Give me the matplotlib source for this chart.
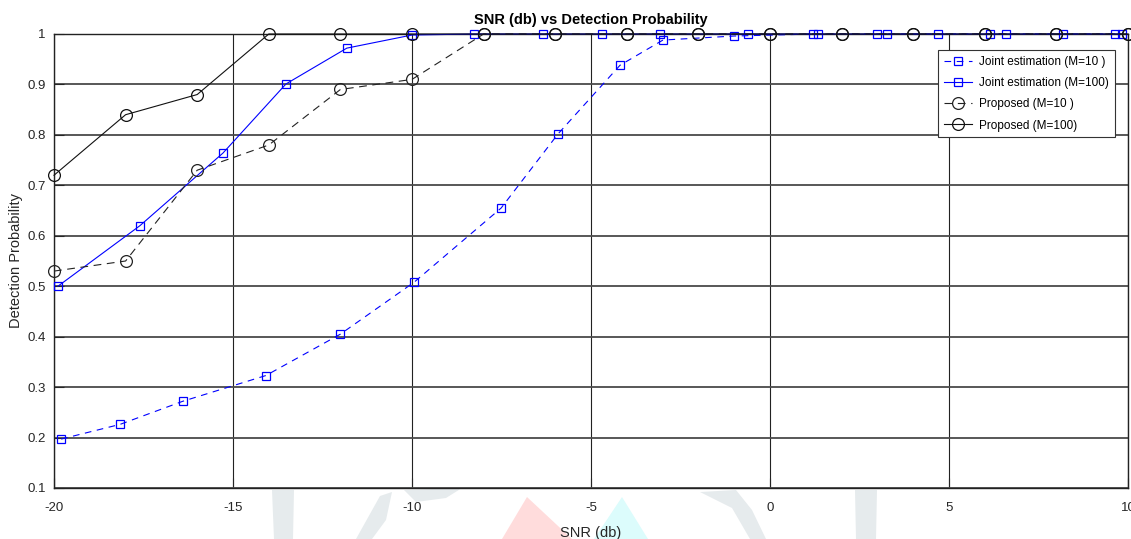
import matplotlib
matplotlib.use("Agg")
import matplotlib.pyplot as plt
from matplotlib.patches import Polygon

plt.rcParams['font.family'] = ['Liberation Sans', 'DejaVu Sans']

# SNR grid for the proposed detector
snr_proposed = [-20, -18, -16, -14, -12, -10, -8, -6, -4, -2, 0, 2, 4, 6, 8, 10]
pd_proposed_m10 = [0.53, 0.55, 0.73, 0.78, 0.89, 0.91, 1.0, 1.0, 1.0, 1.0, 1.0, 1.0, 1.0, 1.0, 1.0, 1.0]
pd_proposed_m100 = [0.72, 0.84, 0.88, 1.0, 1.0, 1.0, 1.0, 1.0, 1.0, 1.0, 1.0, 1.0, 1.0, 1.0, 1.0, 1.0]

# Joint estimation detector
snr_joint_m10 = [-19.8, -18.16, -16.4, -14.08, -12.0, -9.94, -7.51, -5.92, -4.19, -2.99, -1.0,
                 1.2, 2.99, 4.69, 6.59, 9.64]
pd_joint_m10 = [0.197, 0.226, 0.272, 0.323, 0.405, 0.508, 0.655, 0.802, 0.938, 0.988, 0.996,
                1.0, 1.0, 1.0, 1.0, 1.0]
snr_joint_m100 = [-19.89, -17.6, -15.28, -13.52, -11.82, -10.0, -8.27, -6.34, -4.69, -3.07, -0.61,
                  1.34, 3.27, 6.15, 8.18, 9.83]
pd_joint_m100 = [0.5, 0.62, 0.764, 0.901, 0.972, 0.998, 1.0, 1.0, 1.0, 1.0, 1.0,
                 1.0, 1.0, 1.0, 1.0, 1.0]

x_ticks = [-20, -15, -10, -5, 0, 5, 10]
y_ticks = [0.1, 0.2, 0.3, 0.4, 0.5, 0.6, 0.7, 0.8, 0.9, 1.0]
y_tick_labels = ['0.1', '0.2', '0.3', '0.4', '0.5', '0.6', '0.7', '0.8', '0.9', '1']

fig = plt.figure(figsize=(11.31, 5.39), dpi=100)

# faint logo stamped behind the plot
W, H = 1131.0, 539.0
def fig_poly(pts, color):
    p = Polygon([(x / W, 1 - y / H) for x, y in pts], closed=True,
                transform=fig.transFigure, facecolor=color, edgecolor='none', zorder=-5)
    fig.patches.append(p)

fig_poly([(527, 497), (502, 539), (572, 539)], '#ffdcdc')
fig_poly([(622, 497), (594, 539), (648, 539)], '#dcfcfc')
grey = '#e6ebed'
fig_poly([(272, 490), (294, 490), (293, 539), (274, 539)], grey)
fig_poly([(380, 496), (392, 492), (386, 520), (372, 539), (356, 539)], grey)
fig_poly([(404, 490), (462, 488), (446, 498), (416, 502)], grey)
fig_poly([(700, 492), (736, 490), (752, 510), (766, 539), (750, 539), (732, 508)], grey)
fig_poly([(855, 490), (877, 490), (876, 539), (856, 539)], grey)

ax = fig.add_axes([54 / W, 1 - 488 / H, (1128 - 54) / W, (488 - 34) / H])

ax.plot(snr_joint_m10, pd_joint_m10, color='#0000ff', linestyle=(0, (6, 5)), linewidth=0.8,
        marker='s', markersize=6, markerfacecolor='none', markeredgewidth=0.9,
        label='Joint estimation (M=10 )', clip_on=False, zorder=3)
ax.plot(snr_joint_m100, pd_joint_m100, color='#0000ff', linestyle='-', linewidth=0.8,
        marker='s', markersize=6, markerfacecolor='none', markeredgewidth=0.9,
        label='Joint estimation (M=100)', clip_on=False, zorder=3)
ax.plot(snr_proposed, pd_proposed_m10, color='#222222', linestyle=(0, (7, 5)), linewidth=0.8,
        marker='o', markersize=8.5, markerfacecolor='none', markeredgewidth=0.9,
        label='Proposed (M=10 )', clip_on=False, zorder=3)
ax.plot(snr_proposed, pd_proposed_m100, color='#111111', linestyle='-', linewidth=0.8,
        marker='o', markersize=8.5, markerfacecolor='none', markeredgewidth=0.9,
        label='Proposed (M=100)', clip_on=False, zorder=3)

ax.set_xlim(-20, 10)
ax.set_ylim(0.1, 1.0)
ax.set_xticks(x_ticks)
ax.set_xticklabels([str(v) for v in x_ticks])
ax.set_yticks(y_ticks)
ax.set_yticklabels(y_tick_labels)
ax.tick_params(direction='in', length=7, width=0.8, labelsize=9.5, colors='#262626',
               top=False, right=False, pad=6)
ax.tick_params(axis='x', pad=10)
ax.grid(True, axis='x', color='#222222', linewidth=0.8, linestyle='-')
ax.grid(True, axis='y', color='#4a4a4a', linewidth=1.3, linestyle='-')
ax.set_axisbelow(True)
for s in ax.spines.values():
    s.set_color('#222222')
    s.set_linewidth(1.0)

ax.set_title('SNR (db) vs Detection Probability', fontsize=10.5, fontweight='bold', pad=7)
ax.set_xlabel('SNR (db)', fontsize=10.5, color='#262626', labelpad=9)
ax.set_ylabel('Detection Probability', fontsize=10.5, color='#262626', labelpad=3)

leg = ax.legend(loc='upper right', bbox_to_anchor=(1115 / W, 1 - 50 / H),
                bbox_transform=fig.transFigure, borderaxespad=0, fontsize=8.5,
                fancybox=False, shadow=False, framealpha=1, edgecolor='#333333',
                handlelength=2.4, handletextpad=0.6, labelspacing=0.78, borderpad=0.5)
leg.get_frame().set_linewidth(0.8)

fig.savefig('out.png', dpi=100)
